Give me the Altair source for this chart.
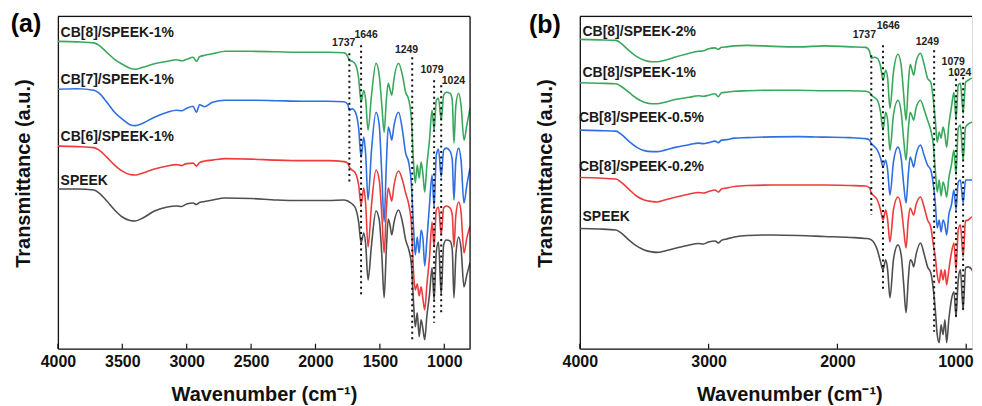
import altair as alt
import pandas as pd

FONT = "Liberation Sans"

# shared wavenumber grid (cm^-1)
wavenumber = [4000, 3850, 3720, 3680, 3620, 3560, 3500, 3440, 3400, 3340,
              3250, 3150, 3080, 3040, 3000, 2950, 2925, 2900, 2860, 2800,
              2700, 2500, 2300, 2100, 1900, 1780, 1750, 1737, 1715, 1690,
              1665, 1646, 1625, 1610, 1592, 1565, 1530, 1505, 1485, 1467,
              1450, 1435, 1420, 1408, 1390, 1355, 1325, 1300, 1275, 1255,
              1240, 1225, 1210, 1195, 1180, 1165, 1152, 1135, 1115, 1095,
              1079, 1062, 1045, 1024, 1005, 985, 955, 938, 925, 910,
              888, 870, 847, 825, 800]

# ---- panel (a) transmittance (a.u., offset stacked) ----
a_cb8 = [308, 307.5, 306.5, 304, 297, 290, 285, 281, 280, 282, 285.5, 288, 289.5, 288.5, 290,
         292, 288, 292.5, 294, 295.5, 298, 298, 297.5, 297, 297, 296.5, 293, 289, 288, 285,
         271, 247, 259, 249, 219, 254, 286, 274, 244, 217, 249, 266, 259, 254, 271,
         286, 274, 257, 249, 229, 189, 166, 184, 171, 187, 174, 157, 184, 209, 239,
         219, 249, 251, 229, 254, 257, 256, 249, 206, 244, 256, 244, 209, 224, 241]
a_cb7 = [260, 260.5, 259, 256, 247, 237, 230, 224.5, 223.5, 226, 232, 237, 239, 238.5, 241,
         243, 237, 244.5, 242.5, 247, 249, 249, 248.5, 248, 248, 247.5, 245, 239, 240.5, 237,
         221, 192, 212, 194, 149, 199, 237, 224, 174, 127, 184, 222, 216, 209, 224,
         237, 219, 196, 186, 164, 124, 94, 112, 96, 119, 109, 83, 109, 144, 174,
         142, 194, 200, 172, 199, 201, 198, 189, 149, 189, 201, 189, 146, 164, 181]
a_cb6 = [203, 202.5, 201.5, 199, 192, 184, 178, 174.5, 174, 176, 180, 183, 184.5, 183.5, 185.5,
         186, 183, 186.5, 188, 189, 190.5, 190, 189, 188.5, 188.5, 187.5, 186, 182, 179, 176,
         164, 144, 161, 144, 102, 144, 179, 169, 134, 96, 139, 161, 154, 148, 164,
         178, 169, 156, 144, 124, 79, 59, 65, 53, 62, 49, 39, 64, 91, 127,
         102, 139, 142, 114, 141, 143, 141, 134, 102, 134, 147, 137, 96, 111, 123]
a_speek = [160, 160, 159, 156, 148, 139, 132, 128.5, 128, 131, 138, 142, 143, 142.5, 145,
           146, 144.5, 146.5, 147.5, 149, 151, 150.5, 149, 148.5, 148.5, 149, 148, 147, 145, 141,
           127, 106, 116, 104, 69, 104, 138, 129, 94, 51, 99, 130, 123, 114, 127,
           139, 127, 109, 99, 84, 49, 22, 36, 12, 29, 19, 9, 33, 54, 81,
           49, 97, 107, 54, 104, 109, 108, 99, 51, 94, 112, 101, 62, 74, 86]

# ---- panel (b) ----
b_2 = [310, 309.5, 309, 306, 299, 293, 289, 287.5, 287.5, 289, 292.5, 296, 298, 298.5, 300.5,
       301.5, 300, 302, 302.5, 303.5, 304, 303, 302.5, 303.5, 302.5, 302, 298, 291, 292, 291,
       283, 269, 279, 271, 241, 277, 295, 284, 254, 229, 264, 285, 279, 274, 287,
       296, 284, 271, 267, 249, 229, 207, 217, 211, 222, 214, 202, 224, 242, 257,
       229, 264, 266, 236, 267, 269, 271, 264, 249, 269, 273, 264, 239, 251, 261]
b_1 = [266.5, 266, 265.5, 263, 257, 251, 247, 245.5, 245.5, 247, 250, 252, 253.5, 253, 254,
       255.5, 252.5, 256.5, 257, 258, 258.5, 259, 259, 258.5, 258.5, 258, 256.5, 254, 252, 249,
       237, 219, 237, 229, 199, 234, 249, 237, 209, 189, 219, 237, 233, 229, 241,
       249, 239, 229, 219, 204, 179, 157, 169, 153, 167, 161, 152, 171, 184, 199,
       174, 221, 224, 189, 222, 225, 227, 219, 199, 223, 228, 219, 194, 206, 216]
b_05 = [219, 218.5, 218, 215, 208, 202, 198.5, 197.5, 197.5, 199, 202, 204.5, 206, 205.5, 206.5,
        208, 206.5, 209, 209.5, 211, 211.5, 212.3, 212.5, 212, 211.5, 210.5, 209, 205.5, 203, 199,
        191, 182, 189, 179, 154, 187, 202, 191, 164, 146, 174, 192, 187, 182, 194,
        204, 193, 184, 179, 164, 146, 121, 129, 117, 129, 124, 114, 134, 144, 159,
        139, 167, 169, 146, 169, 169, 169, 161, 142, 167, 171, 164, 139, 151, 159]
b_02 = [171.5, 171, 170, 167, 160, 153, 149, 147.5, 147, 149, 152, 155, 156.5, 156, 157.5,
        159, 157, 160, 161, 162.5, 163.5, 164, 164, 164, 163.5, 163, 161, 156, 153, 149,
        139, 129, 139, 129, 107, 139, 152, 142, 119, 101, 129, 141, 137, 134, 144,
        152, 141, 129, 122, 104, 92, 74, 66, 79, 69, 79, 64, 79, 96, 106,
        79, 119, 124, 92, 128, 129, 132, 121, 89, 123, 129, 121, 94, 104, 114]
b_speek = [120.5, 120, 119, 116, 109, 103, 99, 97, 96.5, 98, 101, 104, 105.5, 105, 107,
           108, 106, 108.5, 110, 112, 113.5, 114, 113.5, 112.5, 111.5, 110.5, 110, 109, 106, 99,
           87, 79, 89, 79, 51, 89, 104, 94, 64, 36, 69, 89, 87, 82, 94,
           106, 94, 82, 76, 59, 39, 14, 6, 24, 14, 29, 6, 29, 49, 57,
           32, 69, 79, 39, 81, 82, 79, 69, 36, 74, 82, 74, 49, 59, 69]

a_names = ["CB[8]/SPEEK-1%", "CB[7]/SPEEK-1%", "CB[6]/SPEEK-1%", "SPEEK"]
a_colors = ["#3aa85c", "#2f6fe0", "#ee3b3b", "#4f4f4f"]
a_label_y = [316.7, 269, 212.3, 168]
a_label_x = [3979, 3979, 3979, 3979]

b_names = ["CB[8]/SPEEK-2%", "CB[8]/SPEEK-1%", "CB[8]/SPEEK-0.5%", "CB[8]/SPEEK-0.2%", "SPEEK"]
b_colors = ["#b57ce2", "#3aa85c", "#2f6fe0", "#ee3b3b", "#4f4f4f"]
b_label_y = [317.3, 276.3, 230.7, 182.3, 131.7]
b_label_x = [3979, 3979, 4007, 4007, 3979]

peak_wn = [1737, 1646, 1249, 1079, 1024]
peak_text = ["1737", "1646", "1249", "1079", "1024"]
a_peak_top = [296, 304, 292, 269, 264]
a_peak_bot = [166, 51, 9, 26, 34]
a_peak_lx = [1781, 1607, 1293, 1095, 929]
a_peak_ly = [306, 314, 299, 279, 268]
b_peak_top = [294, 304, 299, 276, 272]
b_peak_bot = [134, 59, 17, 32, 36]
b_peak_lx = [1791, 1605, 1302, 1101, 1050]
b_peak_ly = [314, 323, 307, 287, 276]

ticks_a = [4000, 3500, 3000, 2500, 2000, 1500, 1000]
ticks_b = [4000, 3000, 2000, 1000]

H = 333
W_A, X_END_A = 413, 800
W_B, X_END_B = 393, 955   # panel (b) is cut at the right edge, same px per cm^-1
FRAME = "#111111"


def panel(names, colors, series, label_x, label_y, ptop, pbot, plx, ply, ticks,
          letter, letter_x, letter_y, width, x_end, right_border, title_x, edge_tick):
    rows = []
    for name, vals in zip(names, series):
        for w, v in zip(wavenumber, vals):
            rows.append({"wn": w, "t": v, "series": name})
    df = pd.DataFrame(rows)
    xs = alt.Scale(domain=[4000, x_end], nice=False, zero=False)
    ys = alt.Scale(domain=[0, H], nice=False, zero=False)

    lines = alt.Chart(df).mark_line(strokeWidth=1.6, interpolate="monotone", clip=True).encode(
        x=alt.X("wn:Q", scale=xs, axis=alt.Axis(
            values=ticks, format="d", ticks=False, tickSize=0, grid=False,
            domain=True, domainColor=FRAME, domainWidth=1.3,
            labelFont=FONT, labelFontSize=16, labelFontWeight="bold", labelColor="#111111",
            labelPadding=5, labelFlush=False,
            labelAlign={"condition": {"test": f"datum.value == {edge_tick}", "value": "right"},
                        "value": "center"},
            labelOffset={"condition": {"test": f"datum.value == {edge_tick}", "value": 7},
                         "value": 0},
            title="Wavenumber (cm\u207b\u00b9)", titleFont=FONT, titleX=title_x,
            titleFontSize=20, titleFontWeight="bold", titleColor="#111111", titlePadding=15)),
        y=alt.Y("t:Q", scale=ys, axis=alt.Axis(
            labels=False, ticks=False, tickSize=0, grid=False,
            domain=True, domainColor=FRAME, domainWidth=1.3,
            title="Transmittance (a.u.)", titleFont=FONT, titleFontSize=20, titleY=157,
            titleFontWeight="bold", titleColor="#111111", titlePadding=24)),
        color=alt.Color("series:N", scale=alt.Scale(domain=names, range=colors), legend=None),
    )

    pk = pd.DataFrame({"wn": peak_wn, "t": ptop, "t2": pbot})
    dots = alt.Chart(pk).mark_rule(color="#111111", strokeWidth=2, strokeDash=[2, 3.5], clip=True).encode(
        x=alt.X("wn:Q", scale=xs),
        y=alt.Y("t:Q", scale=ys),
        y2="t2:Q",
    )

    pl = pd.DataFrame({"wn": plx, "t": ply, "lab": peak_text})
    plab = alt.Chart(pl).mark_text(font=FONT, fontSize=10.5, fontWeight="bold", color="#222222",
                                   align="center", baseline="middle").encode(
        x=alt.X("wn:Q", scale=xs),
        y=alt.Y("t:Q", scale=ys),
        text="lab:N",
    )

    cl = pd.DataFrame({"wn": label_x, "t": label_y, "lab": names})
    clab = alt.Chart(cl).mark_text(font=FONT, fontSize=14, fontWeight="bold", color="#1a1a1a",
                                   align="left", baseline="middle").encode(
        x=alt.X("wn:Q", scale=xs),
        y=alt.Y("t:Q", scale=ys),
        text="lab:N",
    )

    tk = pd.DataFrame({"wn": ticks})
    tick_rules = alt.Chart(tk).mark_rule(color=FRAME, strokeWidth=1.2).encode(
        x=alt.X("wn:Q", scale=xs),
        y=alt.value(H),
        y2=alt.value(H - 5),
    )

    one = pd.DataFrame({"lab": [letter]})
    top_border = alt.Chart(one).mark_rule(color=FRAME, strokeWidth=1.3).encode(
        x=alt.value(0), x2=alt.value(width), y=alt.value(0))
    layers = [lines, dots, plab, clab, tick_rules, top_border]
    if right_border:
        layers.append(alt.Chart(one).mark_rule(color=FRAME, strokeWidth=1.3).encode(
            x=alt.value(width), y=alt.value(0), y2=alt.value(H)))

    let = alt.Chart(one).mark_text(
        font=FONT, fontSize=25, fontWeight="bold", color="#000000",
        align="center", baseline="middle").encode(
        text="lab:N", x=alt.value(letter_x), y=alt.value(letter_y))
    layers.append(let)

    return alt.layer(*layers).properties(width=width, height=H)


pa = panel(a_names, a_colors, [a_cb8, a_cb7, a_cb6, a_speek], a_label_x, a_label_y,
           a_peak_top, a_peak_bot, a_peak_lx, a_peak_ly, ticks_a, "(a)", -32, 8,
           W_A, X_END_A, True, W_A / 2, -1)
pb = panel(b_names, b_colors, [b_2, b_1, b_05, b_02, b_speek], b_label_x, b_label_y,
           b_peak_top, b_peak_bot, b_peak_lx, b_peak_ly, ticks_b, "(b)", -35, 9,
           W_B, X_END_B, False, 210, 1000)

chart = alt.hconcat(pa, pb, spacing=56).properties(
    padding={"left": 2, "top": 3, "right": 0, "bottom": 0}
).configure_view(stroke=None).configure(background="white")

chart.save("out.html", embed_options={"renderer": "svg", "actions": False})
